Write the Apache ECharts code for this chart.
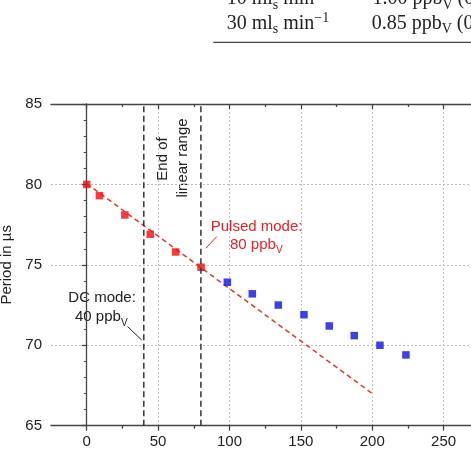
<!DOCTYPE html>
<html><head><meta charset="utf-8">
<script src="https://cdn.jsdelivr.net/npm/echarts@6/dist/echarts.min.js"></script>
<style>html,body{margin:0;padding:0;background:#fff}#c{width:471px;height:455px}</style>
</head><body><div id="c"></div>
<script>
// ---- data ----
const pulsedX = [0, 8.9, 26.7, 44.5, 62.3, 80.1];
const pulsedY = [80.0, 79.3, 78.1, 76.9, 75.8, 74.85];
const beyondX = [98.5, 116, 134.2, 152.2, 169.9, 187.4, 205.4, 223.6];
const beyondY = [73.92, 73.2, 72.5, 71.9, 71.2, 70.6, 70.0, 69.4];
const fitX = [0, 200];
const fitY = [80.05, 67.0];
const limitX = [40, 80];
const xMajor = [0, 50, 100, 150, 200, 250];
const xMinor = [25, 75, 125, 175, 225];
const yMin = 65, yMax = 85, yStep = 5;
const xMin = -25, xMax = 275;

const SANS = '"Liberation Sans", Arial, sans-serif';
const SERIF = '"Liberation Serif", "Times New Roman", serif';
const RED = '#e8202a';
const INK = '#222';

const mctx = document.createElement('canvas').getContext('2d');
function measure(t, size, fam) { mctx.font = size + 'px ' + fam; return mctx.measureText(t).width; }
// parts: [text, fontSize, verticalShift]; x = left, cy = center of main text
function runs(parts, x, cy, fam, color) {
  const els = []; let cx = x;
  parts.forEach(([t, s, sh]) => {
    els.push({ type: 'text', silent: true,
      style: { text: t, x: cx, y: cy + sh, font: s + 'px ' + fam, fill: color, align: 'left', verticalAlign: 'middle' } });
    cx += measure(t, s, fam);
  });
  return els;
}
function pairs(xs, ys) { return xs.map((x, i) => [x, ys[i]]); }

const chart = echarts.init(document.getElementById('c'), null, { renderer: 'canvas' });

const axisLine = { show: true, lineStyle: { color: '#444', width: 1.3 } };
const xBase = { type: 'value', min: xMin, max: xMax, gridIndex: 0 };

const graphics = [].concat(
  // table fragment
  runs([['10 ml', 20, 0], ['s', 14, 6], [' min', 20, 0], ['\u22121', 14, -5]], 226.7, -0.8, SERIF, INK),
  runs([['1.00 ppb', 20, 0], ['V', 14, 6], [' (0.0', 20, 0]], 372.5, -0.8, SERIF, INK),
  runs([['30 ml', 20, 0], ['s', 14, 6], [' min', 20, 0], ['\u22121', 14, -5]], 226.7, 23.3, SERIF, INK),
  runs([['0.85 ppb', 20, 0], ['V', 14, 6], [' (0.0', 20, 0]], 371.7, 23.3, SERIF, INK),
  [{ type: 'line', silent: true, shape: { x1: 213.3, y1: 42.3, x2: 471, y2: 42.3 }, style: { stroke: '#444', lineWidth: 1.3 } }],
  // annotations
  runs([['Pulsed mode:', 15, 0]], 210.7, 226.7, SANS, RED),
  runs([['80 ppb', 15, 0], ['V', 10, 5.5]], 230, 245, SANS, RED),
  [{ type: 'line', silent: true, shape: { x1: 205.7, y1: 248.3, x2: 216.7, y2: 236.7 }, style: { stroke: RED, lineWidth: 1 } }],
  runs([['DC mode:', 15, 0]], 68.3, 298.3, SANS, INK),
  runs([['40 ppb', 15, 0], ['V', 10, 6]], 75, 317.3, SANS, INK),
  [{ type: 'line', silent: true, shape: { x1: 127.5, y1: 326.5, x2: 141.7, y2: 340 }, style: { stroke: INK, lineWidth: 1 } }],
  [{ type: 'text', silent: true, x: 163, y: 159, rotation: Math.PI / 2,
     style: { text: 'End of', x: 0, y: 0, font: '15px ' + SANS, fill: INK, align: 'center', verticalAlign: 'middle' } },
   { type: 'text', silent: true, x: 183, y: 158, rotation: Math.PI / 2,
     style: { text: 'linear range', x: 0, y: 0, font: '15px ' + SANS, fill: INK, align: 'center', verticalAlign: 'middle' } }]
);

chart.setOption({
  animation: false,
  backgroundColor: '#fff',
  grid: { left: 51, top: 104, right: -8.3, bottom: 29.3, outerBoundsMode: 'none', containLabel: false },
  xAxis: [
    Object.assign({}, xBase, {
      position: 'bottom', axisLine,
      axisTick: { show: true, length: 5, customValues: xMajor, lineStyle: { color: '#444', width: 1.3 } },
      axisLabel: { customValues: xMajor, color: INK, fontSize: 15, fontFamily: SANS, margin: 9 },
      splitLine: { show: true, lineStyle: { color: '#bdbdbd', type: [2, 2], width: 1 } }
    }),
    Object.assign({}, xBase, {
      position: 'bottom', axisLine: { show: false },
      axisTick: { show: true, length: 3, customValues: xMinor, lineStyle: { color: '#444', width: 1.3 } },
      axisLabel: { show: false }, splitLine: { show: false }
    }),
    Object.assign({}, xBase, {
      position: 'top', axisLine,
      axisTick: { show: true, inside: true, length: 5, customValues: xMajor, lineStyle: { color: '#444', width: 1.3 } },
      axisLabel: { show: false }, splitLine: { show: false }
    }),
    Object.assign({}, xBase, {
      position: 'top', axisLine: { show: false },
      axisTick: { show: true, inside: true, length: 3, customValues: xMinor, lineStyle: { color: '#444', width: 1.3 } },
      axisLabel: { show: false }, splitLine: { show: false }
    })
  ],
  yAxis: [{
    type: 'value', min: yMin, max: yMax, interval: yStep, position: 'left',
    axisLine,
    axisTick: { show: true, length: 5, lineStyle: { color: '#444', width: 1.3 } },
    minorTick: { show: true, splitNumber: 5, length: 3, lineStyle: { color: '#444', width: 1 } },
    axisLabel: { color: INK, fontSize: 15, fontFamily: SANS, margin: 9 },
    splitLine: { show: true, lineStyle: { color: '#bdbdbd', type: [2, 2], width: 1 } },
    name: 'Period in \u00b5s', nameLocation: 'middle', nameGap: 30,
    nameTextStyle: { color: INK, fontSize: 15, fontFamily: SANS }
  }],
  series: [
    { name: 'fit', type: 'line', data: pairs(fitX, fitY), symbol: 'none', z: 2,
      lineStyle: { color: '#e8352e', width: 1.5, type: [5, 3.5] } },
    { name: 'pulsed', type: 'scatter', data: pairs(pulsedX, pulsedY), symbol: 'rect', symbolSize: 7.5, z: 3,
      itemStyle: { color: '#f20c0c' } },
    { name: 'beyond', type: 'scatter', data: pairs(beyondX, beyondY), symbol: 'rect', symbolSize: 7.5, z: 3,
      itemStyle: { color: '#0c12e6' } },
    ...limitX.map((lx, i) => ({ name: 'limit' + i, type: 'line', data: [[lx, yMin], [lx, yMax]], symbol: 'none', z: 4,
      lineStyle: { color: '#333', width: 1.5, type: [6, 3.5] } }))
  ],
  graphic: { elements: graphics }
});
</script></body></html>
